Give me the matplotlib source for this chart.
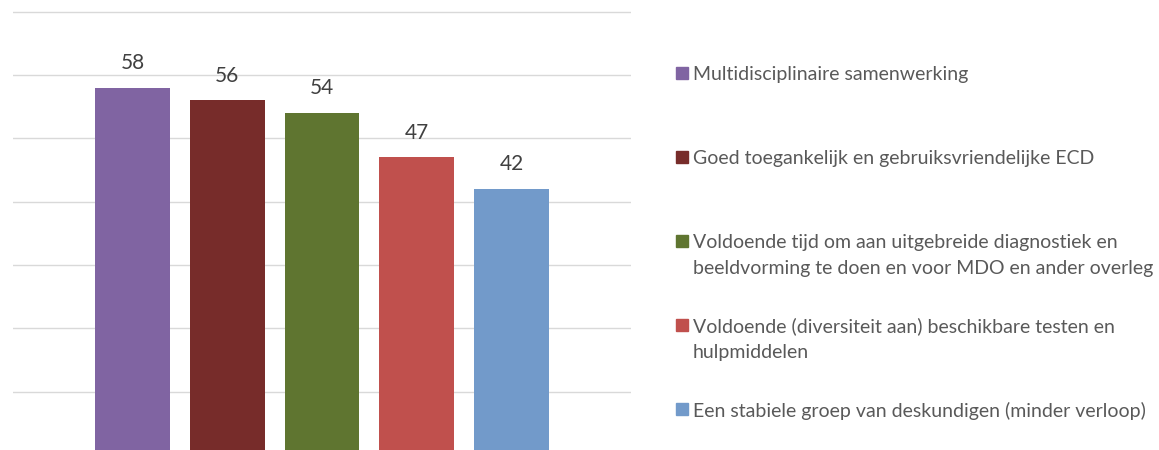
import numpy as np
import matplotlib
matplotlib.use("Agg")
import matplotlib.pyplot as plt
from matplotlib.patches import Rectangle

plt.rcParams["font.family"] = ["Lato", "DejaVu Sans"]

# =============================
# Data
# =============================
labels = [
    "Multidisciplinaire samenwerking",
    "Goed toegankelijk en gebruiksvriendelijke ECD",
    "Voldoende tijd om aan uitgebreide diagnostiek en\nbeeldvorming te doen en voor MDO en ander overleg",
    "Voldoende (diversiteit aan) beschikbare testen en\nhulpmiddelen",
    "Een stabiele groep van deskundigen (minder verloop)",
]
values = [58, 56, 54, 47, 42]
colors = ["#8064A2", "#772C2A", "#5F7530", "#C0504D", "#729ACA"]

W, H = 1159, 450
fig = plt.figure(figsize=(W / 100, H / 100), dpi=100)

# axes: y=0 sits a few pixels below the bottom edge
ax = fig.add_axes([13 / W, -5 / H, (631 - 13) / W, 449.7 / H])
x = np.arange(len(values))
ax.bar(x, values, width=0.79, color=colors, zorder=2)

for xi, v in zip(x, values):
    ax.annotate(str(v), (xi, v), xytext=(0, 13.5), textcoords="offset points",
                ha="center", va="baseline", fontsize=15, color="#404040")

ax.set_xlim(-1.26, 5.26)
ax.set_ylim(0, 71)
ax.set_yticks(np.arange(0, 71, 10))
ax.yaxis.grid(True, color="#d9d9d9", linewidth=1.0, zorder=0)
ax.set_xticks([])
ax.tick_params(left=False, labelleft=False)
for s in ax.spines.values():
    s.set_visible(False)

# =============================
# Legend (drawn by hand)
# =============================
sq = 12
for i, (lab, c) in enumerate(zip(labels, colors)):
    yc = 73 + i * 84  # pixel centre of first line
    fig.patches.append(Rectangle((676 / W, 1 - (yc + sq / 2) / H), sq / W, sq / H,
                                 transform=fig.transFigure, color=c))
    for j, line in enumerate(lab.split("\n")):
        fig.text(693 / W, 1 - (yc + j * 25.7) / H, line, ha="left", va="center_baseline",
                 fontsize=14.0, color="#595959")

fig.savefig("out.png", dpi=100)
